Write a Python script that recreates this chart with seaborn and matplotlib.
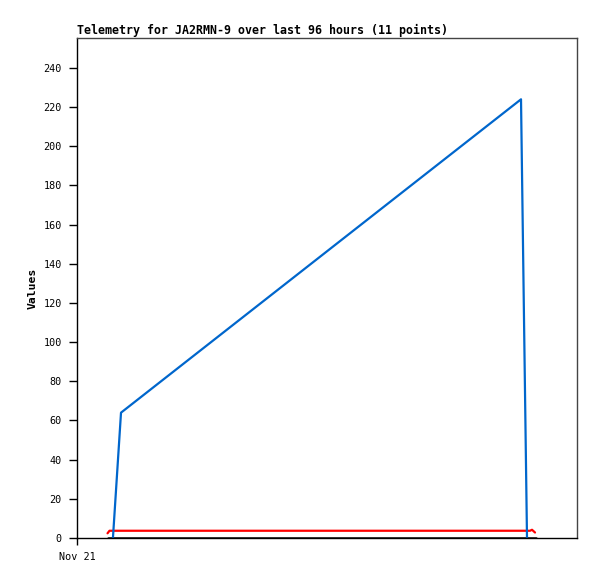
import matplotlib
matplotlib.use("Agg")
import matplotlib.pyplot as plt
import seaborn as sns

# ── Data (hours since Nov 21 00:00) ───────────────────────────────────────────
blue_hours = [6.9, 8.45, 85.25, 86.4]
blue_values = [0, 64, 224, 0]

red_hours = [5.86, 6.24, 86.98, 87.36, 87.65, 87.94]
red_values = [2.4, 3.7, 3.7, 4.2, 3.5, 2.8]

black_hours = [5.86, 88.13]
black_values = [0, 0]

x_ticks = [0]
x_tick_labels = ["Nov 21"]
y_ticks = [0, 20, 40, 60, 80, 100, 120, 140, 160, 180, 200, 220, 240]

TITLE = "Telemetry for JA2RMN-9 over last 96 hours (11 points)"

sns.set_style("white")
plt.rcParams["font.family"] = ["DejaVu Sans Mono"]
plt.rcParams["text.color"] = "black"
plt.rcParams["axes.labelcolor"] = "black"
plt.rcParams["xtick.color"] = "black"
plt.rcParams["ytick.color"] = "black"

fig = plt.figure(figsize=(5.97, 5.79), dpi=100)
ax = fig.add_axes([77 / 597, 1 - 538 / 579, 500 / 597, 500 / 579])

sns.lineplot(x=black_hours, y=black_values, ax=ax, color="black", linewidth=1.8)
sns.lineplot(x=red_hours, y=red_values, ax=ax, color="#ff0000", linewidth=1.6)
sns.lineplot(x=blue_hours, y=blue_values, ax=ax, color="#0066cc", linewidth=1.6)

ax.set_xlim(0, 96)
ax.set_ylim(0, 255.3)
ax.set_xticks(x_ticks)
ax.set_xticklabels(x_tick_labels)
ax.set_yticks(y_ticks)
ax.tick_params(axis="both", direction="out", length=6, width=1, colors="black",
               labelsize=7.3, pad=5, bottom=True, left=True)
ax.tick_params(axis="x", length=5, pad=5)

for side in ("left", "bottom"):
    ax.spines[side].set_color("black")
    ax.spines[side].set_linewidth(1)
for side in ("top", "right"):
    ax.spines[side].set_color("#444444")
    ax.spines[side].set_linewidth(1)

ax.set_ylabel("Values", fontsize=8.2, fontweight="bold", labelpad=4, color="black")
ax.set_xlabel("")
ax.set_title(TITLE, loc="left", fontsize=8.4, fontweight="bold", pad=3, color="black")

fig.savefig("out.png", dpi=100)
plt.close(fig)
